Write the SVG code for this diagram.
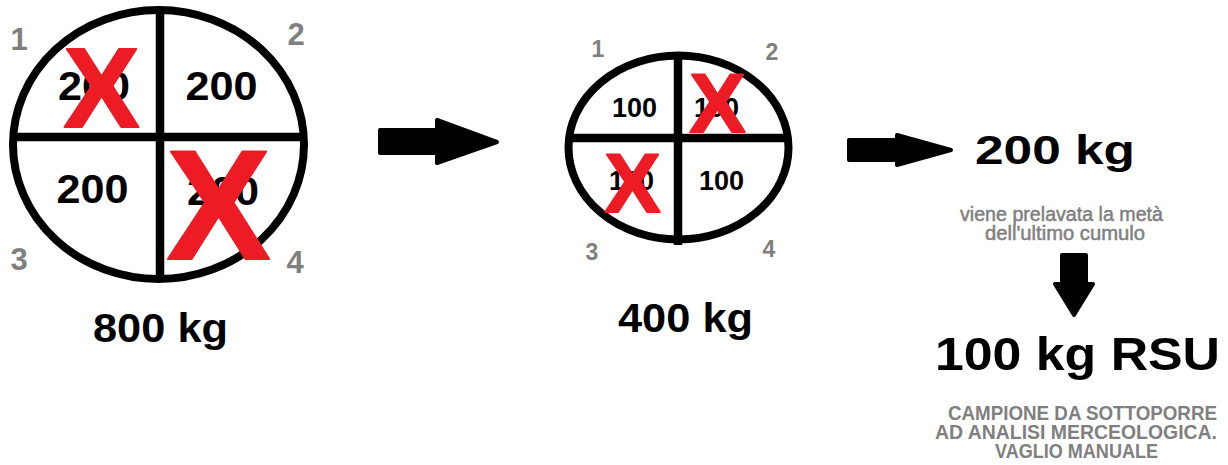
<svg xmlns="http://www.w3.org/2000/svg" width="1228" height="465" viewBox="0 0 1228 465">
<style>
.bg{fill:#ffffff}
.ring{fill:none;stroke:#000;stroke-width:8}
.div{stroke:#000;stroke-width:8.5;stroke-linecap:butt}
.t{font-family:"Liberation Sans",Arial,sans-serif;font-weight:bold}
.r{font-family:"Liberation Sans",Arial,sans-serif;font-weight:normal;stroke:#7f7f7f;stroke-width:0.5}
.blk{fill:#000}
.gr{fill:#7f7f7f}
.x{fill:#ed1c24;stroke:#ed1c24;stroke-width:2;stroke-linejoin:round;font-family:"Liberation Sans",Arial,sans-serif;font-weight:bold;text-anchor:middle}
.mid{text-anchor:middle}
.arrow{fill:#000;stroke:#000;stroke-width:4;stroke-linejoin:round}
</style>
<rect class="bg" x="0" y="0" width="1228" height="465"/>

<g id="pile800">
  <ellipse class="ring" cx="158.5" cy="144.5" rx="145.5" ry="134.5"/>
  <line class="div" x1="160" y1="8" x2="160" y2="282"/>
  <line class="div" x1="11" y1="137" x2="306" y2="137"/>
  <text class="t blk mid" x="94" y="100" font-size="40" textLength="72" lengthAdjust="spacingAndGlyphs">200</text>
  <text class="t blk mid" x="221.5" y="100" font-size="40" textLength="72" lengthAdjust="spacingAndGlyphs">200</text>
  <text class="t blk mid" x="92.5" y="203" font-size="40" textLength="72" lengthAdjust="spacingAndGlyphs">200</text>
  <text class="t blk mid" x="223" y="205" font-size="40" textLength="72" lengthAdjust="spacingAndGlyphs">200</text>
  <text class="x" x="101.5" y="127" font-size="114">X</text>
  <text class="x" x="218.5" y="259" font-size="156">X</text>
  <text class="t gr mid" x="19" y="50" font-size="31">1</text>
  <text class="t gr mid" x="296" y="45" font-size="31">2</text>
  <text class="t gr mid" x="19" y="270" font-size="31">3</text>
  <text class="t gr mid" x="295" y="273" font-size="31">4</text>
  <text class="t blk" x="93" y="342" font-size="40" textLength="135" lengthAdjust="spacingAndGlyphs">800 kg</text>
</g>

<g id="pile400">
  <ellipse class="ring" cx="678.5" cy="147.5" rx="110" ry="92"/>
  <line class="div" x1="678" y1="52" x2="678" y2="245"/>
  <line class="div" x1="567" y1="138" x2="790" y2="138"/>
  <text class="t blk mid" x="634.5" y="117" font-size="27">100</text>
  <text class="t blk mid" x="716.5" y="117" font-size="27">100</text>
  <text class="t blk mid" x="631.5" y="190" font-size="27">100</text>
  <text class="t blk mid" x="721.5" y="190" font-size="27">100</text>
  <text class="x" x="717.5" y="132" font-size="84">X</text>
  <text class="x" x="632.5" y="212" font-size="84">X</text>
  <text class="t gr mid" x="598" y="57" font-size="23">1</text>
  <text class="t gr mid" x="772" y="60" font-size="23">2</text>
  <text class="t gr mid" x="592" y="260" font-size="23">3</text>
  <text class="t gr mid" x="769" y="257" font-size="23">4</text>
  <text class="t blk" x="618" y="332" font-size="40" textLength="135" lengthAdjust="spacingAndGlyphs">400 kg</text>
</g>

<g id="half200">
  <text class="t blk" x="975" y="164" font-size="41" textLength="160" lengthAdjust="spacingAndGlyphs">200 kg</text>
  <text class="r gr" x="960" y="221" font-size="19.5" textLength="203" lengthAdjust="spacingAndGlyphs">viene prelavata la metà</text>
  <text class="r gr" x="985" y="240" font-size="19.5" textLength="160" lengthAdjust="spacingAndGlyphs">dell'ultimo cumulo</text>
</g>

<g id="sample100">
  <text class="t blk" x="935" y="370" font-size="46" textLength="285" lengthAdjust="spacingAndGlyphs">100 kg RSU</text>
  <text class="t gr" x="948" y="420" font-size="20" textLength="269" lengthAdjust="spacingAndGlyphs">CAMPIONE DA SOTTOPORRE</text>
  <text class="t gr" x="935" y="439" font-size="20" textLength="282" lengthAdjust="spacingAndGlyphs">AD ANALISI MERCEOLOGICA.</text>
  <text class="t gr" x="995" y="458" font-size="20" textLength="163" lengthAdjust="spacingAndGlyphs">VAGLIO MANUALE</text>
</g>

<g id="connectors">
  <path class="arrow" d="M380,130 L437,130 L437,120 L497,142 L437,163 L437,153 L380,153 Z"/>
  <path class="arrow" d="M849,140 L897,140 L897,135 L951,150 L897,165 L897,160 L849,160 Z"/>
  <path class="arrow" d="M1062,255 L1086,255 L1086,284 L1093,284 L1074,315 L1055,284 L1062,284 Z"/>
</g>
</svg>
